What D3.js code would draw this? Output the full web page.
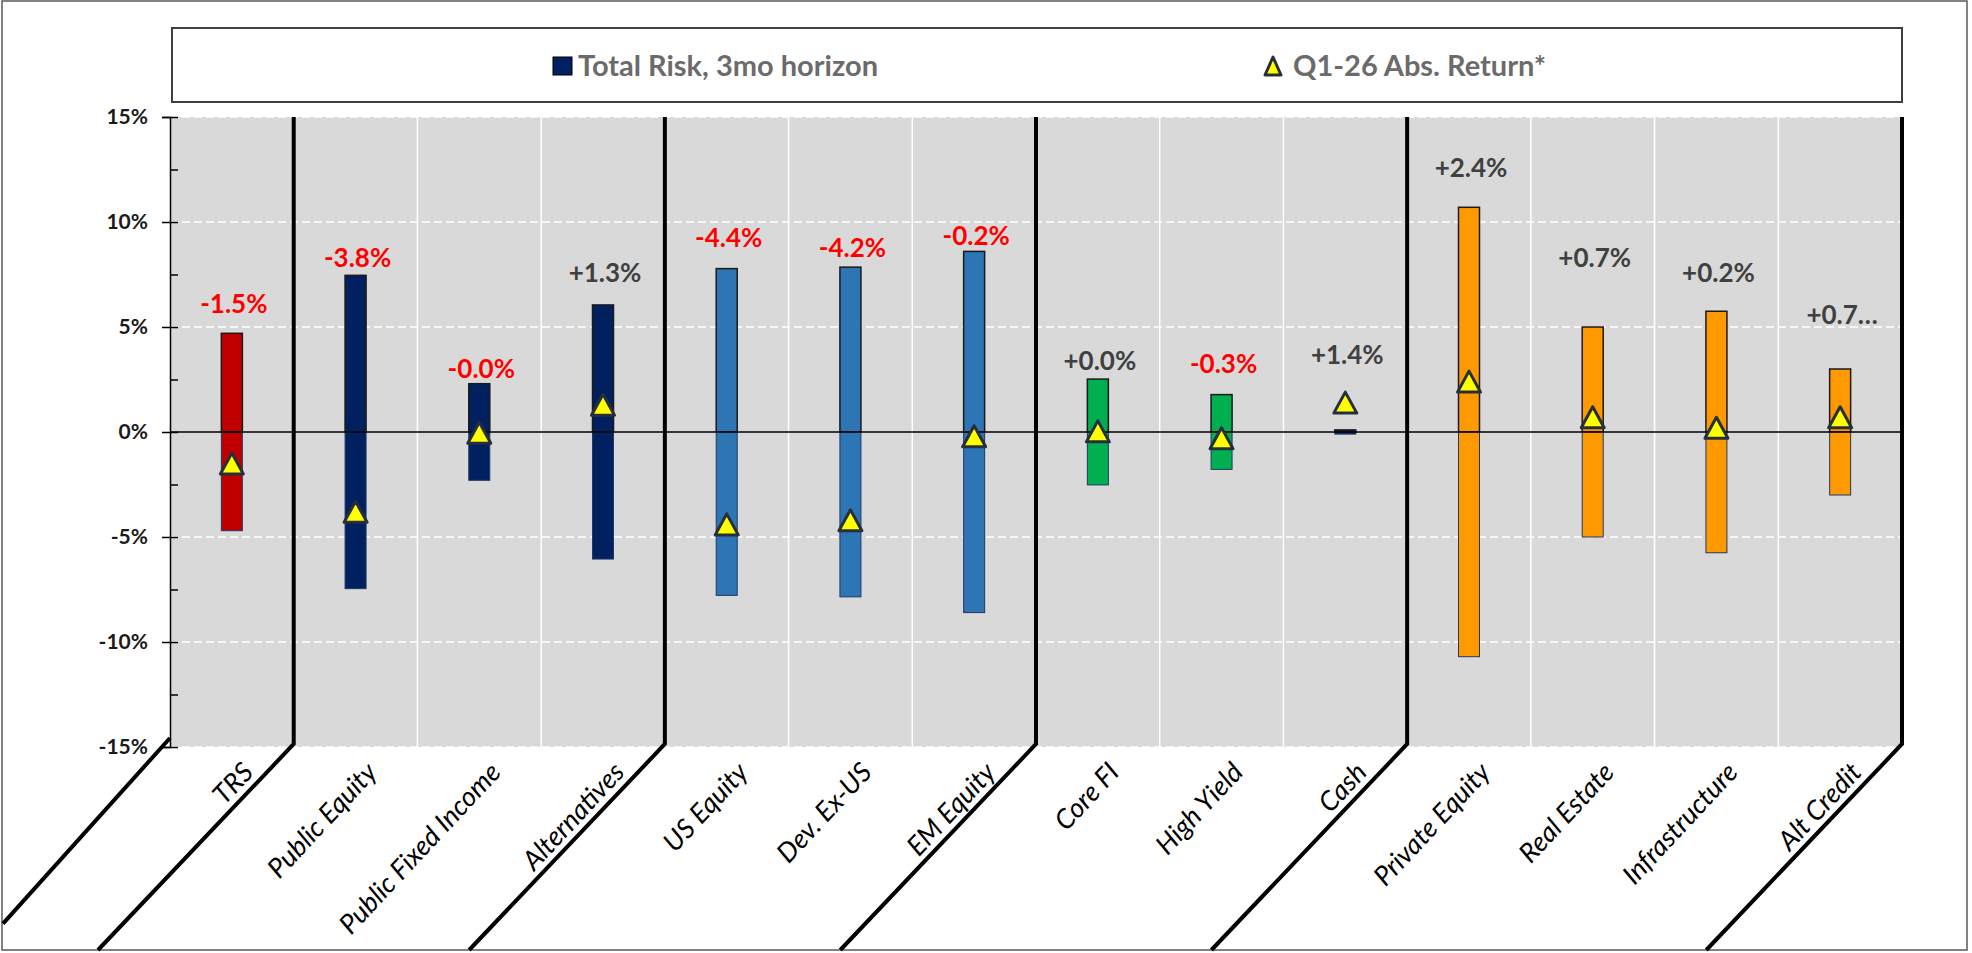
<!DOCTYPE html>
<html>
<head>
<meta charset="utf-8">
<script src="https://cdn.jsdelivr.net/npm/d3@7"></script>
<style>
    body { margin: 0; background: #fff; }
    svg text { font-family: Lato, "Open Sans", sans-serif; }
</style>
</head>
<body>
<div id="chart"></div>
<script>
// Data
const categories = ["TRS", "Public Equity", "Public Fixed Income", "Alternatives", "US Equity", "Dev. Ex-US",
    "EM Equity", "Core FI", "High Yield", "Cash", "Private Equity", "Real Estate", "Infrastructure", "Alt Credit"];
// Total risk, 3mo horizon (bar goes from -risk to +risk)
const totalRisk = [4.7, 7.46, 2.3, 6.05, 7.78, 7.85, 8.6, 2.52, 1.78, 0.1, 10.7, 5.0, 5.75, 3.0];
// Q1-26 absolute return
const absReturn = [-1.5, -3.8, -0.04, 1.3, -4.4, -4.2, -0.2, 0.03, -0.3, 1.4, 2.4, 0.7, 0.2, 0.7];
const returnLabels = ["-1.5%", "-3.8%", "-0.0%", "+1.3%", "-4.4%", "-4.2%", "-0.2%", "+0.0%", "-0.3%",
    "+1.4%", "+2.4%", "+0.7%", "+0.2%", "+0.7\u2026"];
// height (in %) where each return label sits
const labelAnchor = [6.1, 8.28, 3.02, 7.59, 9.24, 8.76, 9.33, 3.4, 3.24, 3.67, 12.57, 8.27, 7.56, 5.57];
// last category of each group (thick separators)
const groupEnds = ["TRS", "Alternatives", "EM Equity", "Cash", "Alt Credit"];
const yTicks = [-15, -10, -5, 0, 5, 10, 15];
const legendLabels = ["Total Risk, 3mo horizon", "Q1-26 Abs. Return*"];

const width = 1972;
const height = 953;
const plot = { left: 170, right: 1902, top: 117, bottom: 747 };
const barWidth = 21;

// colours per category
const barColor = {
    "TRS": "#c00000",
    "Public Equity": "#002060", "Public Fixed Income": "#002060", "Alternatives": "#002060",
    "US Equity": "#2e75b6", "Dev. Ex-US": "#2e75b6", "EM Equity": "#2e75b6",
    "Core FI": "#00b050", "High Yield": "#00b050", "Cash": "#002060",
    "Private Equity": "#ff9900", "Real Estate": "#ff9900", "Infrastructure": "#ff9900", "Alt Credit": "#ff9900"
};

const rows = categories.map((c, i) => ({
    category: c, risk: totalRisk[i], ret: absReturn[i], label: returnLabels[i], anchor: labelAnchor[i]
}));

const svg = d3.select("#chart").append("svg")
    .attr("width", width)
    .attr("height", height);

const x = d3.scaleBand()
    .domain(categories)
    .range([plot.left, plot.right])
    .padding(0);

const y = d3.scaleLinear()
    .domain([-15, 15])
    .range([plot.bottom, plot.top]);

const cx = c => x(c) + x.bandwidth() / 2;

// Outer frame
svg.append("rect")
    .attr("x", 2).attr("y", 1)
    .attr("width", 1965).attr("height", 949)
    .attr("fill", "#fff")
    .attr("stroke", "#595959")
    .attr("stroke-width", 1.5);

// Legend box
svg.append("rect")
    .attr("x", 172).attr("y", 28)
    .attr("width", plot.right - 172).attr("height", 74)
    .attr("fill", "#fff")
    .attr("stroke", "#404040")
    .attr("stroke-width", 2);

const legend = svg.append("g").attr("transform", "translate(0,66)");
legend.append("rect")
    .attr("x", 553).attr("y", -9)
    .attr("width", 19).attr("height", 18)
    .attr("fill", "#002060")
    .attr("stroke", "#000")
    .attr("stroke-width", 1);
legend.append("text")
    .attr("x", 578).attr("dy", "0.35em")
    .attr("fill", "#6b6b6b")
    .attr("font-size", 29).attr("font-weight", "bold")
    .text(legendLabels[0]);

const triPath = (w, h) => `M0,${-h / 2}L${w / 2},${h / 2}L${-w / 2},${h / 2}Z`;

legend.append("path")
    .attr("transform", "translate(1273,0)")
    .attr("d", triPath(16, 18))
    .attr("fill", "#ffff00")
    .attr("stroke", "#262f3a")
    .attr("stroke-width", 3)
    .attr("stroke-linejoin", "round");
legend.append("text")
    .attr("x", 1293).attr("dy", "0.35em")
    .attr("fill", "#6b6b6b")
    .attr("font-size", 29).attr("font-weight", "bold")
    .text(legendLabels[1]);

// Plot background
svg.append("rect")
    .attr("x", plot.left).attr("y", plot.top)
    .attr("width", plot.right - plot.left).attr("height", plot.bottom - plot.top)
    .attr("fill", "#d9d9d9");

// Horizontal gridlines (white dashed)
svg.append("g")
    .selectAll("line")
    .data(yTicks.filter(d => d !== 0))
    .enter()
    .append("line")
    .attr("x1", plot.left).attr("x2", plot.right)
    .attr("y1", d => y(d)).attr("y2", d => y(d))
    .attr("stroke", "#fff")
    .attr("stroke-width", 1.5)
    .attr("stroke-dasharray", "8,4");

// Thin white lines between categories
svg.append("g")
    .selectAll("line")
    .data(categories.slice(1).filter((c, i) => !groupEnds.includes(categories[i])))
    .enter()
    .append("line")
    .attr("x1", d => x(d)).attr("x2", d => x(d))
    .attr("y1", plot.top).attr("y2", plot.bottom)
    .attr("stroke", "#fff")
    .attr("stroke-width", 1.5);

// Bars: upper half and lower half
const bars = svg.append("g");
bars.selectAll("rect.up")
    .data(rows)
    .enter()
    .append("rect")
    .attr("class", "up")
    .attr("x", d => cx(d.category) - barWidth / 2)
    .attr("y", d => y(d.risk))
    .attr("width", barWidth)
    .attr("height", d => y(0) - y(d.risk))
    .attr("fill", d => barColor[d.category])
    .attr("stroke", "#1a1a1a")
    .attr("stroke-width", 1.5);

bars.selectAll("rect.down")
    .data(rows)
    .enter()
    .append("rect")
    .attr("class", "down")
    .attr("x", d => cx(d.category) - barWidth / 2)
    .attr("y", y(0))
    .attr("width", barWidth)
    .attr("height", d => y(-d.risk) - y(0))
    .attr("fill", d => barColor[d.category])
    .attr("stroke", "#1f3864")
    .attr("stroke-width", 1);

// Zero line
svg.append("line")
    .attr("x1", plot.left).attr("x2", plot.right)
    .attr("y1", y(0)).attr("y2", y(0))
    .attr("stroke", "#000")
    .attr("stroke-width", 1.5);

// Y axis: major ticks cross the axis, minor ticks only inside
const yAxis = d3.axisLeft(y)
    .tickValues(yTicks)
    .tickSize(8)
    .tickPadding(14)
    .tickFormat(d => d + "%");

const yAxisG = svg.append("g")
    .attr("transform", `translate(${plot.left},0)`)
    .call(yAxis);
yAxisG.select(".domain").attr("stroke", "#000").attr("stroke-width", 1.5);
yAxisG.selectAll(".tick line").attr("stroke", "#000").attr("stroke-width", 1.5);
yAxisG.selectAll(".tick text")
    .attr("fill", "#1a1a1a")
    .style("font-family", "Lato, sans-serif")
    .style("font-size", "21px")
    .style("font-weight", "bold");

const minorAxis = d3.axisRight(y)
    .tickValues(d3.range(-15, 15.1, 2.5))
    .tickSize(8)
    .tickFormat("");
const minorG = svg.append("g")
    .attr("transform", `translate(${plot.left},0)`)
    .call(minorAxis);
minorG.select(".domain").remove();
minorG.selectAll(".tick line").attr("stroke", "#000").attr("stroke-width", 1.5);

// Thick group separators, bending into diagonals below the plot
const bendY = plot.bottom - 3;
const slope = 0.95;
const sepLine = svg.append("g");
groupEnds.forEach(c => {
    const bx = x(c) + x.bandwidth();
    sepLine.append("path")
        .attr("d", `M${bx},${plot.top}L${bx},${bendY}L${bx - slope * (height - 3 - bendY)},${height - 3}`)
        .attr("fill", "none")
        .attr("stroke", "#000")
        .attr("stroke-width", 4);
});
// left diagonal from the axis corner
sepLine.append("line")
    .attr("x1", plot.left).attr("y1", plot.bottom - 9)
    .attr("x2", 3).attr("y2", plot.bottom - 9 + (plot.left - 3) / 0.9)
    .attr("stroke", "#000")
    .attr("stroke-width", 4);

// Return markers
svg.append("g")
    .selectAll("path")
    .data(rows)
    .enter()
    .append("path")
    .attr("transform", d => `translate(${cx(d.category)},${y(d.ret)})`)
    .attr("d", triPath(23, 21))
    .attr("fill", "#ffff00")
    .attr("stroke", "#262f3a")
    .attr("stroke-width", 3)
    .attr("stroke-linejoin", "round");

// Return labels
svg.append("g")
    .selectAll("text")
    .data(rows)
    .enter()
    .append("text")
    .attr("x", d => cx(d.category) + 2)
    .attr("y", d => y(d.anchor))
    .attr("dy", "0.35em")
    .attr("text-anchor", "middle")
    .attr("font-size", 26)
    .attr("font-weight", "bold")
    .attr("fill", d => d.label.startsWith("-") ? "#ff0000" : "#404040")
    .text(d => d.label);

// Category labels, rotated
svg.append("g")
    .selectAll("text")
    .data(categories)
    .enter()
    .append("text")
    .attr("transform", d => `translate(${cx(d) + 16},${plot.bottom + 20}) rotate(-47)`)
    .attr("text-anchor", "end")
    .attr("dy", "0.35em")
    .attr("font-size", 27)
    .attr("font-style", "italic")
    .attr("fill", "#000")
    .text(d => d);
</script>
</body>
</html>
